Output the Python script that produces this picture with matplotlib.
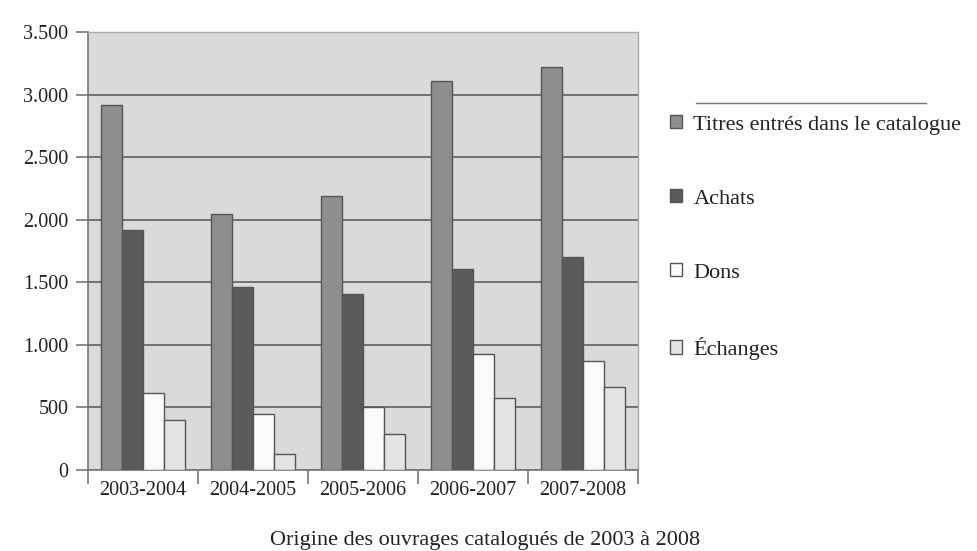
import matplotlib
matplotlib.use("Agg")
import matplotlib.pyplot as plt
import numpy as np
from matplotlib.lines import Line2D

categories = ["2003-2004", "2004-2005", "2005-2006", "2006-2007", "2007-2008"]
titres = [2915, 2045, 2190, 3110, 3220]
achats = [1920, 1460, 1405, 1610, 1705]
dons = [612, 450, 503, 930, 868]
echanges = [397, 125, 288, 578, 660]
series_names = ["Titres entrés dans le catalogue", "Achats", "Dons", "Échanges"]
yticks = [0, 500, 1000, 1500, 2000, 2500, 3000, 3500]
ytick_labels = ["0", "500", "1.000", "1.500", "2.000", "2.500", "3.000", "3.500"]
title = "Origine des ouvrages catalogués de 2003 à 2008"

plt.rcParams['font.family'] = ['Liberation Serif', 'DejaVu Serif']

W, H = 978, 551
fig = plt.figure(figsize=(W / 100, H / 100), dpi=100)
fig.patch.set_facecolor("#fdfdfd")

def px(x0, y0, x1, y1):
    return [x0 / W, 1 - y1 / H, (x1 - x0) / W, (y1 - y0) / H]

ax = fig.add_axes(px(88, 32, 638, 470))
ax.set_facecolor("#dadada")

colors = ["#8e8e8e", "#5b5b5b", "#fbfbfb", "#e4e4e4"]
data = [titres, achats, dons, echanges]
x = np.arange(len(categories))
w = 0.19
handles = []
for i, (vals, c, name) in enumerate(zip(data, colors, series_names)):
    b = ax.bar(x + (i - 1.5) * w, vals, width=w, color=c, edgecolor="#555555",
               linewidth=1.0, label=name, zorder=3)
    handles.append(b)

ax.set_xlim(-0.5, len(categories) - 0.5)
ax.set_ylim(0, 3500)
ax.set_yticks(yticks)
ax.set_yticklabels(ytick_labels, fontsize=14.5, color="#222222")
ax.yaxis.grid(True, color="#6a6a6a", linewidth=1.3, zorder=1)
ax.set_axisbelow(True)
ax.tick_params(axis="y", length=9, width=1.2, color="#777777", pad=5)

ax.set_xticks(np.arange(-0.5, len(categories)))
ax.set_xticklabels([])
ax.tick_params(axis="x", which="major", length=10, width=1.2, color="#777777", direction="out")
ax.set_xticks(x, minor=True)
ax.set_xticklabels(categories, minor=True, fontsize=14.5, color="#222222")
ax.tick_params(axis="x", which="minor", length=0, pad=8)

for s in ["top", "right"]:
    ax.spines[s].set_color("#aaaaaa")
    ax.spines[s].set_linewidth(1.0)
ax.spines["left"].set_color("#777777")
ax.spines["left"].set_linewidth(1.2)
ax.spines["bottom"].set_color("#777777")
ax.spines["bottom"].set_linewidth(1.2)

leg = fig.legend(handles=handles, labels=series_names, loc="upper left",
                 bbox_to_anchor=(670 / W, 1 - 115 / H), frameon=False,
                 fontsize=16, labelspacing=2.45, handlelength=0.55, handleheight=0.55,
                 handletextpad=0.5, borderpad=0, borderaxespad=0)
for t in leg.get_texts():
    t.set_color("#222222")

fig.add_artist(Line2D([696 / W, 926 / W], [1 - 103 / H, 1 - 103 / H],
                      color="#777777", linewidth=1.0))

fig.text(485 / W, 1 - 545 / H, title, ha="center", va="baseline",
         fontsize=16, color="#222222")

fig.savefig("out.png", dpi=100, facecolor=fig.get_facecolor())
